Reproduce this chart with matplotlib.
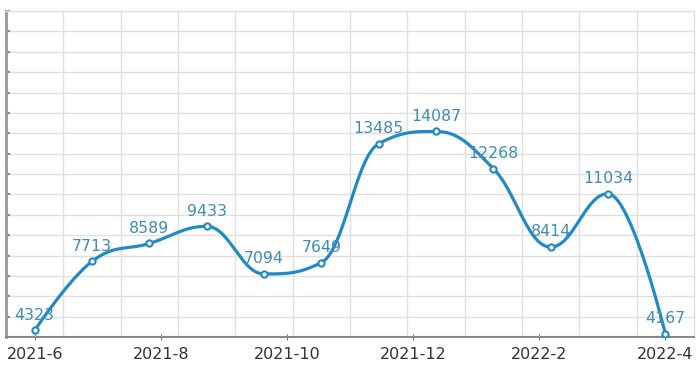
import matplotlib
matplotlib.use('Agg')
import matplotlib.pyplot as plt
import numpy as np

# data
values = [4323, 7713, 8589, 9433, 7094, 7649, 13485, 14087, 12268, 8414, 11034, 4167]
tick_labels = ['2021-6', '2021-8', '2021-10', '2021-12', '2022-2', '2022-4']

line_color = '#2389c4'
label_color = '#3f8cb8'

x = np.arange(len(values))
y = np.array(values, dtype=float)


def spline_path(xs, ys, smoothing=1.5, n=30):
    # spline with control points at 0.4 of each segment, extremes flattened
    k = len(xs)
    left = [(xs[i], ys[i]) for i in range(k)]
    right = [(xs[i], ys[i]) for i in range(k)]
    d = smoothing + 1
    for i in range(1, k - 1):
        lx = (smoothing * xs[i] + xs[i - 1]) / d
        ly = (smoothing * ys[i] + ys[i - 1]) / d
        rx = (smoothing * xs[i] + xs[i + 1]) / d
        ry = (smoothing * ys[i] + ys[i + 1]) / d
        corr = (ry - ly) * (rx - xs[i]) / (rx - lx) + ys[i] - ry
        ly += corr
        ry += corr
        if ly > ys[i - 1] and ly > ys[i]:
            ly = max(ys[i - 1], ys[i]); ry = 2 * ys[i] - ly
        elif ly < ys[i - 1] and ly < ys[i]:
            ly = min(ys[i - 1], ys[i]); ry = 2 * ys[i] - ly
        if ry > ys[i + 1] and ry > ys[i]:
            ry = max(ys[i + 1], ys[i]); ly = 2 * ys[i] - ry
        elif ry < ys[i + 1] and ry < ys[i]:
            ry = min(ys[i + 1], ys[i]); ly = 2 * ys[i] - ry
        left[i] = (lx, ly)
        right[i] = (rx, ry)
    pts = [np.array([xs[0], ys[0]])]
    t = np.linspace(0, 1, n)[1:, None]
    for i in range(1, k):
        p0 = np.array([xs[i - 1], ys[i - 1]])
        c0 = np.array(right[i - 1])
        c1 = np.array(left[i])
        p1 = np.array([xs[i], ys[i]])
        b = (1 - t) ** 3 * p0 + 3 * (1 - t) ** 2 * t * c0 + 3 * (1 - t) * t ** 2 * c1 + t ** 3 * p1
        pts.extend(b)
    pts = np.array(pts)
    return pts[:, 0], pts[:, 1]


fig = plt.figure(figsize=(7, 3.68), dpi=100)
ax = fig.add_axes([6 / 700, 31 / 368, 688 / 700, 326 / 368])

cx, cy = spline_path(x, y)
ax.plot(cx, cy, color=line_color, lw=2.3, zorder=3, solid_capstyle='round')
ax.plot(x, y, 'o', ms=4.5, mfc='white', mec=line_color, mew=1.5, zorder=4)

for xi, yi in zip(x, values):
    ax.annotate(str(yi), (xi, yi), xytext=(0, 5.5), textcoords='offset points',
                ha='center', va='bottom', fontsize=11.3, color=label_color, zorder=5)

ax.set_xlim(-0.5, 11.5)
ax.set_ylim(4000, 20000)

ax.set_xticks(np.linspace(0, 11, 6))
ax.set_xticklabels(tick_labels, fontsize=11.5, color='#333333')
ax.set_xticks(np.arange(0.5, 11, 1), minor=True)
ax.set_yticks(np.arange(4000, 20001, 1000))
ax.set_yticklabels([])

ax.grid(True, which='minor', axis='x', color='#e0e0e0', lw=1)
ax.grid(True, which='major', axis='y', color='#e0e0e0', lw=1)
ax.set_axisbelow(True)

ax.tick_params(axis='x', which='major', direction='inout', length=5, color='#777777', pad=5)
ax.tick_params(axis='x', which='minor', length=0)
ax.tick_params(axis='y', direction='in', length=3, color='#888888', width=1.5)

for side in ['top', 'right']:
    ax.spines[side].set_color('#e0e0e0')
    ax.spines[side].set_linewidth(1)
ax.spines['left'].set_color('#999999')
ax.spines['left'].set_linewidth(2)
ax.spines['bottom'].set_color('#888888')
ax.spines['bottom'].set_linewidth(1.5)

fig.savefig('out.png', dpi=100)
